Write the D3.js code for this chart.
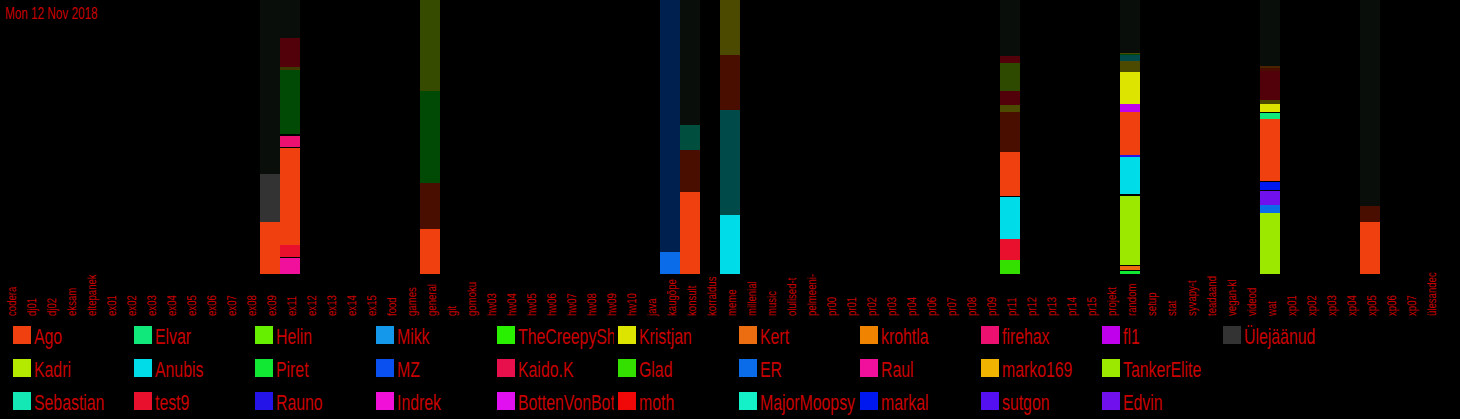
<!DOCTYPE html>
<html><head><meta charset="utf-8">
<script src="https://cdn.jsdelivr.net/npm/d3@7"></script>
<style>html,body{margin:0;padding:0;background:#000;overflow:hidden}svg{display:block}</style>
</head><body><svg id="c" width="1460" height="419"></svg>
<script>
const title = "Mon 12 Nov 2018";
const categories = ["codera","dj01","dj02","eksam","eltepanek","ex01","ex02","ex03","ex04","ex05","ex06","ex07","ex08","ex09","ex11","ex12","ex13","ex14","ex15","food","games","general","git","gomoku","hw03","hw04","hw05","hw06","hw07","hw08","hw09","hw10","java","kaugõpe","konsult","korraldus","meme","millenial","music","olulised-t","pelmeeni-","pr00","pr01","pr02","pr03","pr04","pr06","pr07","pr08","pr09","pr11","pr12","pr13","pr14","pr15","projekt","random","setup","stat","syvapy-t","teadaand","vegan-kl","videod","wat","xp01","xp02","xp03","xp04","xp05","xp06","xp07","ülesandec"];

// legend (column-first order)
const legendNames = ["Ago","Kadri","Sebastian","Elvar","Anubis","test9","Helin","Piret","Rauno","Mikk","MZ","Indrek","TheCreepySh","Kaido.K","BottenVonBot","Kristjan","Glad","moth","Kert","ER","MajorMoopsy","krohtla","Raul","markal","firehax","marko169","sutgon","fl1","TankerElite","Edvin","Ülejäänud"];
const legendColors = ["#f04010","#b4ea00","#14e8b4","#10e87c","#00dce8","#e8102c","#66f000","#10e834","#2414e8","#1498ec","#0a50f0","#f010d8","#28f000","#e8104c","#e010f0","#dce400","#34e000","#f00808","#ec6c10","#0a6ce8","#14f0c8","#f08400","#f0109c","#0018f0","#ec1070","#f0b400","#5410f0","#c000ec","#9ce800","#7010ec","#333333"];

// darker shades used inside bars
const shadeNames = ["rest","Ago~","Piret~","Kadri~","Kristjan~","Anubis~","Sebastian~","ER~","test9~","Helin~","krohtla~","marko169~","sep"];
const shadeColors = ["#0a0e0a","#4a0e00","#004a06","#364a00","#4c4a00","#004a4a","#004e3e","#002050","#52000a","#2e4a00","#4a2400","#3e3a00","#000000"];

// stacked bars, bottom -> top
const barCategories = ["ex09","ex11","general","kaugõpe","konsult","meme","pr11","random","wat","xp05"];
const barKeys = [
  ["Ago","Ülejäänud","rest"],
  ["Raul","sep","test9","Ago","sep","firehax","sep","Piret~","marko169~","test9~","rest"],
  ["Ago","Ago~","Piret~","Kadri~"],
  ["ER","ER~"],
  ["Ago","Ago~","Sebastian~","rest"],
  ["Anubis","Anubis~","Ago~","Kristjan~"],
  ["Glad","test9","Anubis","sep","Ago","Ago~","Kristjan~","test9~","Helin~","test9~","rest"],
  ["Piret","sep","Kert","sep","TankerElite","sep","Anubis","Rauno","Ago","fl1","Kristjan","Kristjan~","Anubis~","Piret~","Kristjan~","rest"],
  ["TankerElite","ER","Edvin","sep","markal","sep","Ago","Elvar","sep","Kristjan","Kristjan~","test9~","Ago~","krohtla~","rest"],
  ["Ago","Ago~","rest"]
];
const barValues = [
  [52,48,174],
  [16,1,12,97,1,11,2,64,3,29,38],
  [45,46,92,91],
  [22,252],
  [82,42,25,125],
  [59,105,55,55],
  [14,21,42,1,44,40,7,14,28,7,56],
  [3,1,4,1,69,2,37,2,43,8,32,11,6,1,1,53],
  [61,8,14,1,8,1,62,6,1,8,4,29,3,2,66],
  [52,16,206]
];

const colorOf = d3.scaleOrdinal()
  .domain(legendNames.concat(shadeNames))
  .range(legendColors.concat(shadeColors));

const svg = d3.select("#c");
svg.append("rect").attr("width",1460).attr("height",419).attr("fill","#000");

const x = d3.scaleBand().domain(categories).range([0,1440]).padding(0);
const y = d3.scaleLinear().domain([0,1]).range([274,0]);

// bars
const segs = [];
barCategories.forEach((cat,i)=>{
  const total = d3.sum(barValues[i]);
  let acc = 0;
  barKeys[i].forEach((k,j)=>{
    const v = barValues[i][j]/total;
    segs.push({cat, key:k, y0:acc, y1:acc+v});
    acc += v;
  });
});
svg.append("g").selectAll("rect").data(segs).join("rect")
  .attr("x", d=>x(d.cat))
  .attr("width", x.bandwidth())
  .attr("y", d=>y(d.y1))
  .attr("height", d=>y(d.y0)-y(d.y1))
  .attr("fill", d=>colorOf(d.key))
  .attr("shape-rendering","crispEdges");

// axis labels
const red = "#c80000";
svg.append("g").selectAll("text").data(categories).join("text")
  .attr("transform", d=>`translate(${x(d)+x.bandwidth()/2+2},316) rotate(-90) scale(0.8,1)`)
  .attr("dy","0.35em")
  .attr("text-anchor","start")
  .attr("font-family","Liberation Sans, Arial, sans-serif")
  .attr("font-size",12)
  .attr("fill",red)
  .text(d=>d);

// title
svg.append("text")
  .attr("transform","translate(5,19) scale(0.69,1)")
  .attr("font-family","Liberation Sans, Arial, sans-serif")
  .attr("font-size",17)
  .attr("fill",red)
  .text(title);

// legend
const colW = 121, rowH = 33, lx0 = 13, ly0 = 326, sq = 18;
const defs = svg.append("defs");
const lg = svg.append("g");
legendNames.forEach((n,i)=>{
  const col = Math.floor(i/3), row = i%3;
  const gx = lx0 + col*colW, gy = ly0 + row*rowH;
  defs.append("clipPath").attr("id","lc"+i)
    .append("rect").attr("x",gx).attr("y",gy-10).attr("width",colW-4).attr("height",rowH+4);
  const g = lg.append("g").attr("clip-path",`url(#lc${i})`);
  g.append("rect").attr("x",gx).attr("y",gy).attr("width",sq).attr("height",sq).attr("fill",colorOf(n));
  g.append("text")
    .attr("transform",`translate(${gx+21},${gy+18}) scale(0.72,1)`)
    .attr("font-family","Liberation Sans, Arial, sans-serif")
    .attr("font-size",22)
    .attr("fill",red)
    .text(n);
});
</script></body></html>
